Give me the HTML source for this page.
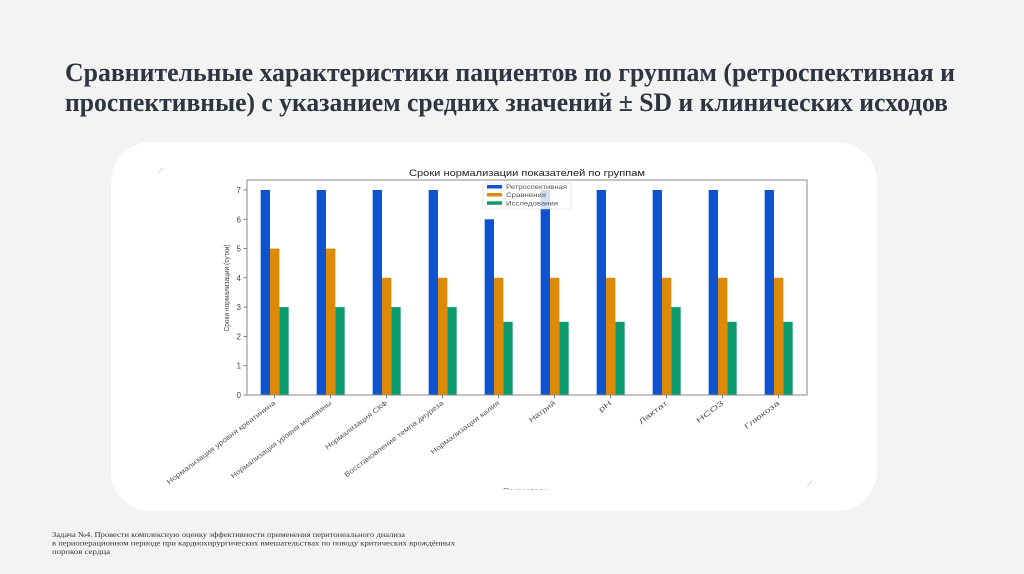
<!DOCTYPE html>
<html><head><meta charset="utf-8"><style>
html,body{margin:0;padding:0;background:#f3f3f3;}
svg{display:block;}
</style></head><body>
<svg width="1024" height="574" viewBox="0 0 1024 574" xmlns="http://www.w3.org/2000/svg">
<rect x="0" y="0" width="1024" height="574" fill="#f3f3f3"/>
<g font-family="'Liberation Serif', serif" font-weight="bold" font-size="26" fill="#2e3440">
<text x="65" y="81" textLength="890" lengthAdjust="spacingAndGlyphs">Сравнительные характеристики пациентов по группам (ретроспективная и</text>
<text x="65" y="111" textLength="883" lengthAdjust="spacingAndGlyphs">проспективные) с указанием средних значений ± SD и клинических исходов</text>
</g>
<rect x="111" y="142" width="766" height="369" rx="40" ry="40" fill="#ffffff"/>
<line x1="158" y1="173" x2="163" y2="168" stroke="#ccc" stroke-width="0.8"/>
<line x1="807" y1="486" x2="812" y2="481" stroke="#ccc" stroke-width="0.8"/>
<text x="527" y="176" text-anchor="middle" font-family="'Liberation Sans', sans-serif" font-size="9.5" fill="#222" textLength="236" lengthAdjust="spacingAndGlyphs">Сроки нормализации показателей по группам</text>
<g id="bars">
<rect x="260.67" y="190" width="9.33" height="205" fill="#0d52cf"/>
<rect x="270" y="248.6" width="9.33" height="146.4" fill="#dd8a0a"/>
<rect x="279.33" y="307.1" width="9.33" height="87.9" fill="#0b9a6c"/>

<rect x="316.67" y="190" width="9.33" height="205" fill="#0d52cf"/>
<rect x="326" y="248.6" width="9.33" height="146.4" fill="#dd8a0a"/>
<rect x="335.33" y="307.1" width="9.33" height="87.9" fill="#0b9a6c"/>

<rect x="372.67" y="190" width="9.33" height="205" fill="#0d52cf"/>
<rect x="382" y="277.8" width="9.33" height="117.2" fill="#dd8a0a"/>
<rect x="391.33" y="307.1" width="9.33" height="87.9" fill="#0b9a6c"/>

<rect x="428.67" y="190" width="9.33" height="205" fill="#0d52cf"/>
<rect x="438" y="277.8" width="9.33" height="117.2" fill="#dd8a0a"/>
<rect x="447.33" y="307.1" width="9.33" height="87.9" fill="#0b9a6c"/>

<rect x="484.67" y="219.3" width="9.33" height="175.7" fill="#0d52cf"/>
<rect x="494" y="277.8" width="9.33" height="117.2" fill="#dd8a0a"/>
<rect x="503.33" y="321.8" width="9.33" height="73.2" fill="#0b9a6c"/>

<rect x="540.67" y="190" width="9.33" height="205" fill="#0d52cf"/>
<rect x="550" y="277.8" width="9.33" height="117.2" fill="#dd8a0a"/>
<rect x="559.33" y="321.8" width="9.33" height="73.2" fill="#0b9a6c"/>

<rect x="596.67" y="190" width="9.33" height="205" fill="#0d52cf"/>
<rect x="606" y="277.8" width="9.33" height="117.2" fill="#dd8a0a"/>
<rect x="615.33" y="321.8" width="9.33" height="73.2" fill="#0b9a6c"/>

<rect x="652.67" y="190" width="9.33" height="205" fill="#0d52cf"/>
<rect x="662" y="277.8" width="9.33" height="117.2" fill="#dd8a0a"/>
<rect x="671.33" y="307.1" width="9.33" height="87.9" fill="#0b9a6c"/>

<rect x="708.67" y="190" width="9.33" height="205" fill="#0d52cf"/>
<rect x="718" y="277.8" width="9.33" height="117.2" fill="#dd8a0a"/>
<rect x="727.33" y="321.8" width="9.33" height="73.2" fill="#0b9a6c"/>

<rect x="764.67" y="190" width="9.33" height="205" fill="#0d52cf"/>
<rect x="774" y="277.8" width="9.33" height="117.2" fill="#dd8a0a"/>
<rect x="783.33" y="321.8" width="9.33" height="73.2" fill="#0b9a6c"/>
</g>
<rect x="247" y="180" width="560" height="215" fill="none" stroke="#8a8a8a" stroke-width="1"/>
<g stroke="#666" stroke-width="0.8">
<line x1="243.5" y1="395" x2="247" y2="395"/>
<line x1="243.5" y1="365.7" x2="247" y2="365.7"/>
<line x1="243.5" y1="336.4" x2="247" y2="336.4"/>
<line x1="243.5" y1="307.1" x2="247" y2="307.1"/>
<line x1="243.5" y1="277.8" x2="247" y2="277.8"/>
<line x1="243.5" y1="248.6" x2="247" y2="248.6"/>
<line x1="243.5" y1="219.3" x2="247" y2="219.3"/>
<line x1="243.5" y1="190" x2="247" y2="190"/>
<line x1="274.67" y1="395" x2="274.67" y2="398.5"/>
<line x1="330.67" y1="395" x2="330.67" y2="398.5"/>
<line x1="386.67" y1="395" x2="386.67" y2="398.5"/>
<line x1="442.67" y1="395" x2="442.67" y2="398.5"/>
<line x1="498.67" y1="395" x2="498.67" y2="398.5"/>
<line x1="554.67" y1="395" x2="554.67" y2="398.5"/>
<line x1="610.67" y1="395" x2="610.67" y2="398.5"/>
<line x1="666.67" y1="395" x2="666.67" y2="398.5"/>
<line x1="722.67" y1="395" x2="722.67" y2="398.5"/>
<line x1="778.67" y1="395" x2="778.67" y2="398.5"/>
</g>
<g font-family="'Liberation Sans', sans-serif" font-size="8" fill="#444" text-anchor="end">
<text x="241" y="398">0</text>
<text x="241" y="368.7">1</text>
<text x="241" y="339.4">2</text>
<text x="241" y="310.1">3</text>
<text x="241" y="280.8">4</text>
<text x="241" y="251.6">5</text>
<text x="241" y="222.3">6</text>
<text x="241" y="193">7</text>
</g>
<text transform="translate(229,288) rotate(-90)" text-anchor="middle" font-family="'Liberation Sans', sans-serif" font-size="7" fill="#444" textLength="87" lengthAdjust="spacingAndGlyphs">Сроки нормализации (сутки)</text>
<g font-family="'Liberation Sans', sans-serif" font-size="7" fill="#555" text-anchor="end">
<text transform="translate(273,400) rotate(-37)" y="5" textLength="134" lengthAdjust="spacingAndGlyphs">Нормализация уровня креатинина</text>
<text transform="translate(329,400) rotate(-37)" y="5" textLength="124" lengthAdjust="spacingAndGlyphs">Нормализация уровня мочевины</text>
<text transform="translate(385,400) rotate(-37)" y="5" textLength="76" lengthAdjust="spacingAndGlyphs">Нормализация СКФ</text>
<text transform="translate(441,400) rotate(-37)" y="5" textLength="122" lengthAdjust="spacingAndGlyphs">Восстановление темпа диуреза</text>
<text transform="translate(497,400) rotate(-37)" y="5" textLength="84" lengthAdjust="spacingAndGlyphs">Нормализация калия</text>
<text transform="translate(553,400) rotate(-37)" y="5" textLength="31" lengthAdjust="spacingAndGlyphs">Натрий</text>
<text transform="translate(609,400) rotate(-37)" y="5" textLength="14" lengthAdjust="spacingAndGlyphs">pH</text>
<text transform="translate(665,400) rotate(-37)" y="5" textLength="34" lengthAdjust="spacingAndGlyphs">Лактат</text>
<text transform="translate(721,400) rotate(-37)" y="5" textLength="32" lengthAdjust="spacingAndGlyphs">HCO3</text>
<text transform="translate(777,400) rotate(-37)" y="5" textLength="42" lengthAdjust="spacingAndGlyphs">Глюкоза</text>
</g>
<defs><clipPath id="cl"><rect x="480" y="470" width="100" height="19.5"/></clipPath></defs>
<text x="503" y="493" clip-path="url(#cl)" font-family="'Liberation Sans', sans-serif" font-size="7" fill="#777" textLength="45" lengthAdjust="spacingAndGlyphs">Показатели</text>
<rect x="483" y="183" width="88" height="26" fill="#ffffff" fill-opacity="0.82" stroke="#dddddd" stroke-width="0.6" rx="1.5"/>
<rect x="487" y="185" width="15" height="3.5" fill="#0d52cf"/>
<rect x="487" y="193" width="15" height="3.5" fill="#dd8a0a"/>
<rect x="487" y="201.3" width="15" height="3.5" fill="#0b9a6c"/>
<g font-family="'Liberation Sans', sans-serif" font-size="6" fill="#555">
<text x="506" y="189" textLength="61" lengthAdjust="spacingAndGlyphs">Ретроспективная</text>
<text x="506" y="197" textLength="40" lengthAdjust="spacingAndGlyphs">Сравнения</text>
<text x="506" y="205.3" textLength="52" lengthAdjust="spacingAndGlyphs">Исследования</text>
</g>
<g font-family="'Liberation Serif', serif" font-size="7.5" fill="#333">
<text x="52" y="537" textLength="353" lengthAdjust="spacingAndGlyphs">Задача №4. Провести комплексную оценку эффективности применения перитонеального диализа</text>
<text x="52" y="545.5" textLength="403" lengthAdjust="spacingAndGlyphs">в периоперационном периоде при кардиохирургических вмешательствах по поводу критических врождённых</text>
<text x="52" y="554" textLength="58" lengthAdjust="spacingAndGlyphs">пороков сердца</text>
</g>
</svg>
</body></html>
